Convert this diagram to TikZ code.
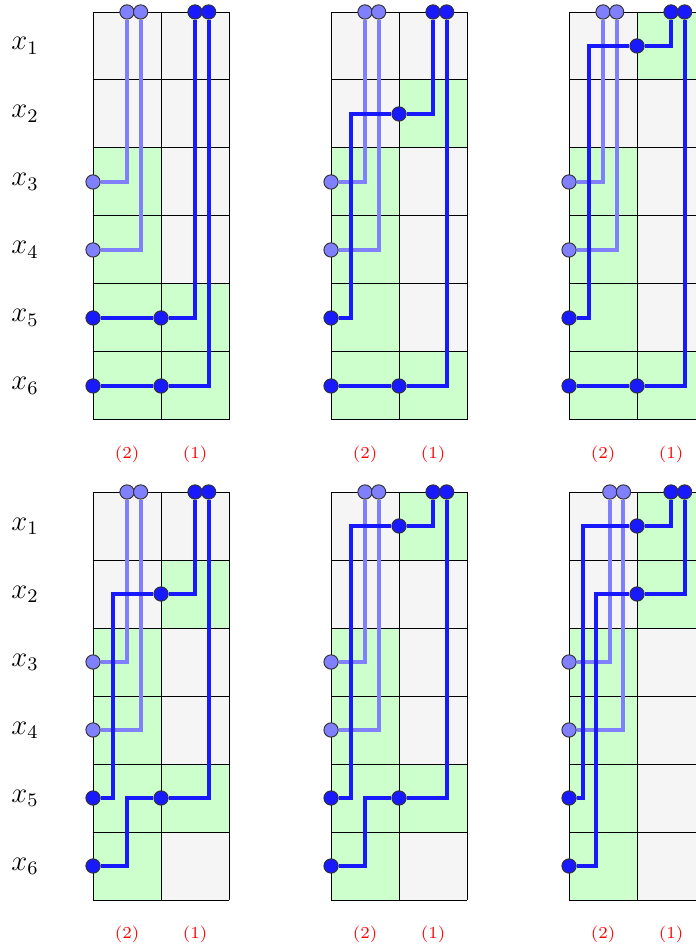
\documentclass[tikz,border=0pt]{standalone}
\usepackage{amsmath}
\usepackage{xcolor}
\usepackage{tikz}

\begin{document}
\begin{tikzpicture}[
  gry/.style={fill=black!4},
  grn/.style={fill=green!20},
  grd/.style={draw=black, line width=0.4pt},
  lt/.style={draw=blue!50, line width=1.7pt},
  dk/.style={draw=blue!90, line width=1.7pt},
  ldot/.style={circle, draw=black!80, line width=0.4pt, fill=blue!50, inner sep=0pt, minimum size=2.1mm},
  ddot/.style={ldot, fill=blue!90},
  xlbl/.style={font=\large},
  rlbl/.style={font=\scriptsize, text=red}
]
\useasboundingbox (0,0) rectangle (10.235,-13.897);

% panel a
\begin{scope}[shift={(1.368,-0.176)}, name prefix=a-]
\fill[gry] (0,0) rectangle (2,-6);
\foreach \c/\r in {0/3,0/4,0/5,1/5,0/6,1/6} \fill[grn] (\c,1-\r) rectangle +(1,-1);
\draw[grd] (0,0) grid (2,-6);
\foreach \i in {1,...,6} \node[xlbl] (x\i) at (-1,0.5-\i) {$x_{\i}$};
\node[rlbl] (c2) at (0.5,-6.5) {(2)};
\node[rlbl] (c1) at (1.5,-6.5) {(1)};
\node[ldot] (l1) at (0.5,0) {};
\node[ldot] (l2) at (0.7,0) {};
\node[ddot] (d1) at (1.5,0) {};
\node[ddot] (d2) at (1.7,0) {};
\node[ldot] (e3) at (0,-2.5) {};
\node[ldot] (e4) at (0,-3.5) {};
\node[ddot] (e5) at (0,-4.5) {};
\node[ddot] (e6) at (0,-5.5) {};
\node[ddot] (m5) at (1,-4.5) {};
\node[ddot] (m6) at (1,-5.5) {};
\draw[lt] (l1) |- (e3);
\draw[lt] (l2) |- (e4);
\draw[dk] (d1) |- (m5) -- (e5);
\draw[dk] (d2) |- (m6) -- (e6);
\end{scope}

% panel b
\begin{scope}[shift={(4.868,-0.176)}, name prefix=b-]
\fill[gry] (0,0) rectangle (2,-6);
\foreach \c/\r in {1/2,0/3,0/4,0/5,0/6,1/6} \fill[grn] (\c,1-\r) rectangle +(1,-1);
\draw[grd] (0,0) grid (2,-6);
\node[rlbl] (c2) at (0.5,-6.5) {(2)};
\node[rlbl] (c1) at (1.5,-6.5) {(1)};
\node[ldot] (l1) at (0.5,0) {};
\node[ldot] (l2) at (0.7,0) {};
\node[ddot] (d1) at (1.5,0) {};
\node[ddot] (d2) at (1.7,0) {};
\node[ldot] (e3) at (0,-2.5) {};
\node[ldot] (e4) at (0,-3.5) {};
\node[ddot] (e5) at (0,-4.5) {};
\node[ddot] (e6) at (0,-5.5) {};
\node[ddot] (m2) at (1,-1.5) {};
\node[ddot] (m6) at (1,-5.5) {};
\draw[lt] (l1) |- (e3);
\draw[lt] (l2) |- (e4);
\draw[dk] (d1) |- (m2) -| (0.3,-4.5) -- (e5);
\draw[dk] (d2) |- (m6) -- (e6);
\end{scope}

% panel c
\begin{scope}[shift={(8.368,-0.176)}, name prefix=c-]
\fill[gry] (0,0) rectangle (2,-6);
\foreach \c/\r in {1/1,0/3,0/4,0/5,0/6,1/6} \fill[grn] (\c,1-\r) rectangle +(1,-1);
\draw[grd] (0,0) grid (2,-6);
\node[rlbl] (c2) at (0.5,-6.5) {(2)};
\node[rlbl] (c1) at (1.5,-6.5) {(1)};
\node[ldot] (l1) at (0.5,0) {};
\node[ldot] (l2) at (0.7,0) {};
\node[ddot] (d1) at (1.5,0) {};
\node[ddot] (d2) at (1.7,0) {};
\node[ldot] (e3) at (0,-2.5) {};
\node[ldot] (e4) at (0,-3.5) {};
\node[ddot] (e5) at (0,-4.5) {};
\node[ddot] (e6) at (0,-5.5) {};
\node[ddot] (m1) at (1,-0.5) {};
\node[ddot] (m6) at (1,-5.5) {};
\draw[lt] (l1) |- (e3);
\draw[lt] (l2) |- (e4);
\draw[dk] (d1) |- (m1) -| (0.3,-4.5) -- (e5);
\draw[dk] (d2) |- (m6) -- (e6);
\end{scope}

% panel d
\begin{scope}[shift={(1.368,-7.235)}, name prefix=d-]
\fill[gry] (0,0) rectangle (2,-6);
\foreach \c/\r in {1/2,0/3,0/4,0/5,1/5,0/6} \fill[grn] (\c,1-\r) rectangle +(1,-1);
\draw[grd] (0,0) grid (2,-6);
\foreach \i in {1,...,6} \node[xlbl] (x\i) at (-1,0.5-\i) {$x_{\i}$};
\node[rlbl] (c2) at (0.5,-6.5) {(2)};
\node[rlbl] (c1) at (1.5,-6.5) {(1)};
\node[ldot] (l1) at (0.5,0) {};
\node[ldot] (l2) at (0.7,0) {};
\node[ddot] (d1) at (1.5,0) {};
\node[ddot] (d2) at (1.7,0) {};
\node[ldot] (e3) at (0,-2.5) {};
\node[ldot] (e4) at (0,-3.5) {};
\node[ddot] (e5) at (0,-4.5) {};
\node[ddot] (e6) at (0,-5.5) {};
\node[ddot] (m2) at (1,-1.5) {};
\node[ddot] (m5) at (1,-4.5) {};
\draw[lt] (l1) |- (e3);
\draw[lt] (l2) |- (e4);
\draw[dk] (d1) |- (m2) -| (0.3,-4.5) -- (e5);
\draw[dk] (d2) |- (m5) -| (0.5,-5.5) -- (e6);
\end{scope}

% panel e
\begin{scope}[shift={(4.868,-7.235)}, name prefix=e-]
\fill[gry] (0,0) rectangle (2,-6);
\foreach \c/\r in {1/1,0/3,0/4,0/5,1/5,0/6} \fill[grn] (\c,1-\r) rectangle +(1,-1);
\draw[grd] (0,0) grid (2,-6);
\node[rlbl] (c2) at (0.5,-6.5) {(2)};
\node[rlbl] (c1) at (1.5,-6.5) {(1)};
\node[ldot] (l1) at (0.5,0) {};
\node[ldot] (l2) at (0.7,0) {};
\node[ddot] (d1) at (1.5,0) {};
\node[ddot] (d2) at (1.7,0) {};
\node[ldot] (e3) at (0,-2.5) {};
\node[ldot] (e4) at (0,-3.5) {};
\node[ddot] (e5) at (0,-4.5) {};
\node[ddot] (e6) at (0,-5.5) {};
\node[ddot] (m1) at (1,-0.5) {};
\node[ddot] (m5) at (1,-4.5) {};
\draw[lt] (l1) |- (e3);
\draw[lt] (l2) |- (e4);
\draw[dk] (d1) |- (m1) -| (0.3,-4.5) -- (e5);
\draw[dk] (d2) |- (m5) -| (0.5,-5.5) -- (e6);
\end{scope}

% panel f
\begin{scope}[shift={(8.368,-7.235)}, name prefix=f-]
\fill[gry] (0,0) rectangle (2,-6);
\foreach \c/\r in {1/1,1/2,0/3,0/4,0/5,0/6} \fill[grn] (\c,1-\r) rectangle +(1,-1);
\draw[grd] (0,0) grid (2,-6);
\node[rlbl] (c2) at (0.5,-6.5) {(2)};
\node[rlbl] (c1) at (1.5,-6.5) {(1)};
\node[ldot] (l1) at (0.6,0) {};
\node[ldot] (l2) at (0.8,0) {};
\node[ddot] (d1) at (1.5,0) {};
\node[ddot] (d2) at (1.7,0) {};
\node[ldot] (e3) at (0,-2.5) {};
\node[ldot] (e4) at (0,-3.5) {};
\node[ddot] (e5) at (0,-4.5) {};
\node[ddot] (e6) at (0,-5.5) {};
\node[ddot] (m1) at (1,-0.5) {};
\node[ddot] (m2) at (1,-1.5) {};
\draw[lt] (l1) |- (e3);
\draw[lt] (l2) |- (e4);
\draw[dk] (d1) |- (m1) -| (0.2,-4.5) -- (e5);
\draw[dk] (d2) |- (m2) -| (0.4,-5.5) -- (e6);
\end{scope}
\end{tikzpicture}
\end{document}
